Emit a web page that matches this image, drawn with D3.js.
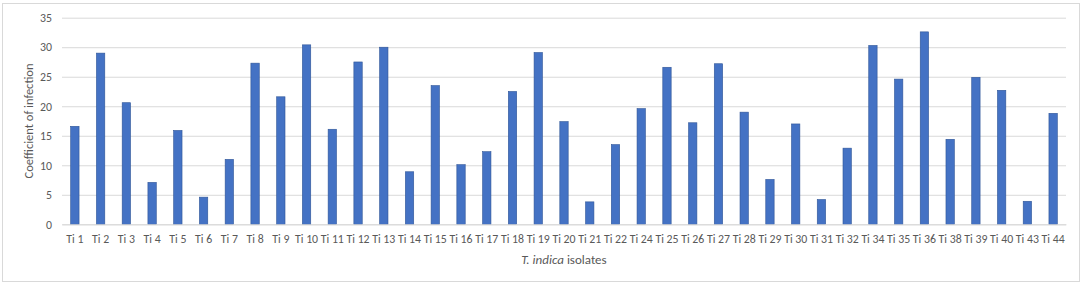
<!DOCTYPE html>
<html>
<head>
<meta charset="utf-8">
<script src="https://cdn.jsdelivr.net/npm/d3@7"></script>
<style>
  html, body { margin: 0; padding: 0; background: #fff; }
  svg { display: block; }
  text { font-family: Calibri, Carlito, "Liberation Sans", Arial, sans-serif; fill: #595959; }
</style>
</head>
<body>
<svg id="chart" width="1084" height="286"></svg>
<script>
const categories = ["Ti 1","Ti 2","Ti 3","Ti 4","Ti 5","Ti 6","Ti 7","Ti 8","Ti 9","Ti 10",
  "Ti 11","Ti 12","Ti 13","Ti 14","Ti 15","Ti 16","Ti 17","Ti 18","Ti 19","Ti 20",
  "Ti 21","Ti 22","Ti 24","Ti 25","Ti 26","Ti 27","Ti 28","Ti 29","Ti 30","Ti 31",
  "Ti 32","Ti 34","Ti 35","Ti 36","Ti 38","Ti 39","Ti 40","Ti 43","Ti 44"];
const values = [16.6, 29.0, 20.6, 7.1, 15.9, 4.6, 11.0, 27.3, 21.6, 30.4,
  16.1, 27.5, 30.0, 8.9, 23.5, 10.1, 12.3, 22.5, 29.1, 17.4,
  3.8, 13.5, 19.6, 26.6, 17.2, 27.2, 19.0, 7.6, 17.0, 4.2,
  12.9, 30.3, 24.6, 32.6, 14.4, 24.9, 22.7, 3.9, 18.8];
const yTicks = [0, 5, 10, 15, 20, 25, 30, 35];
const yTitle = "Coefficient of infection";

const svg = d3.select("#chart");
const plot = { left: 62, right: 1066, top: 17.7, bottom: 224.3 };
const FONT = 'Calibri, Carlito, "Liberation Sans", Arial, sans-serif';

// outer border
svg.append("rect")
  .attr("x", 2.5).attr("y", 3.5)
  .attr("width", 1077).attr("height", 278)
  .attr("fill", "#fff").attr("stroke", "#d9d9d9").attr("stroke-width", 1);

const x = d3.scaleBand().domain(categories).range([plot.left, plot.right])
  .paddingInner(0.675).paddingOuter(0.3375);
const y = d3.scaleLinear().domain([0, 35]).range([plot.bottom, plot.top]);

// gridlines + y labels
const yAxis = d3.axisLeft(y).tickValues(yTicks).tickSize(-(plot.right - plot.left)).tickPadding(10);
const gy = svg.append("g").attr("transform", `translate(${plot.left},0)`).call(yAxis);
gy.select(".domain").remove();
gy.selectAll(".tick line").attr("stroke", "#d9d9d9").attr("stroke-width", 1);
gy.selectAll(".tick text").attr("font-size", 11.8).attr("fill", "#595959").style("font-family", FONT);

// bars
svg.append("g").selectAll("rect")
  .data(values)
  .join("rect")
  .attr("x", (d, i) => x(categories[i]))
  .attr("y", d => y(d))
  .attr("width", x.bandwidth())
  .attr("height", d => y(0) - y(d))
  .attr("fill", "#4472C4")
  .attr("stroke", "#2F5597")
  .attr("stroke-width", 0.6);

// x axis
const xAxis = d3.axisBottom(x).tickSize(0).tickPadding(10);
const gx = svg.append("g").attr("transform", `translate(0,${plot.bottom})`).call(xAxis);
gx.select(".domain").attr("stroke", "#d9d9d9");
gx.selectAll(".tick text").attr("font-size", 11.8).attr("fill", "#595959").style("font-family", FONT);

// y title
svg.append("text")
  .attr("transform", `translate(33,121) rotate(-90)`)
  .attr("text-anchor", "middle")
  .attr("font-size", 12.5)
  .text(yTitle);

// x title
const xt = svg.append("text")
  .attr("x", 564)
  .attr("y", 264)
  .attr("text-anchor", "middle")
  .attr("font-size", 13);
xt.append("tspan").attr("font-style", "italic").text("T. indica");
xt.append("tspan").text(" isolates");
</script>
</body>
</html>
